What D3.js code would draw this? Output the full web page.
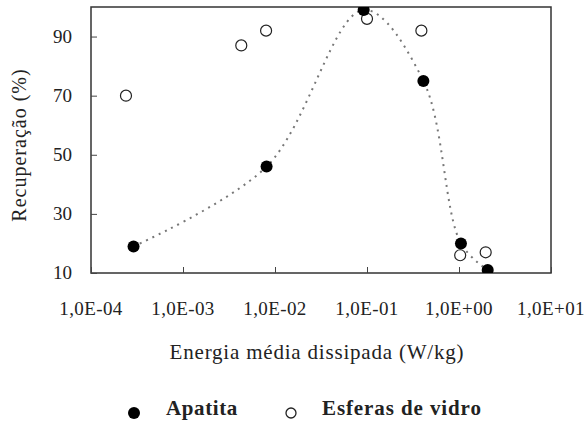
<!DOCTYPE html>
<html>
<head>
<meta charset="utf-8">
<script src="https://cdn.jsdelivr.net/npm/d3@7"></script>
<style>
  body { margin: 0; background: #fff; }
  text { fill: #222; }
</style>
</head>
<body>
<div id="chart"></div>
<script>
// energia media dissipada (W/kg) vs recuperacao (%)
var apatitaX = [2.9e-4, 8.1e-3, 9.2e-2, 4.1e-1, 1.05, 2.05];
var apatitaY = [19, 46, 99, 75, 20, 11];
var vidroX = [2.4e-4, 4.3e-3, 8.0e-3, 1.0e-1, 3.9e-1, 1.03, 1.95];
var vidroY = [70, 87, 92, 96, 92, 16, 17];
var xTicks = [1e-4, 1e-3, 1e-2, 1e-1, 1e0, 1e1];
var xTickLabels = ["1,0E-04", "1,0E-03", "1,0E-02", "1,0E-01", "1,0E+00", "1,0E+01"];
var yTicks = [10, 30, 50, 70, 90];

var width = 586, height = 422;
var plotL = 91, plotR = 551, plotT = 7, plotB = 273;
var serif = "Liberation Serif, Times New Roman, serif";

var svg = d3.select("#chart").append("svg")
    .attr("width", width).attr("height", height);

var x = d3.scaleLog().domain([1e-4, 1e1]).range([plotL, plotR]);
var y = d3.scaleLinear().domain([10, 100]).range([plotB, plotT]);

svg.append("clipPath").attr("id", "clip")
  .append("rect").attr("x", plotL).attr("y", plotT)
  .attr("width", plotR - plotL).attr("height", plotB - plotT);

// frame
svg.append("rect")
    .attr("x", plotL).attr("y", plotT)
    .attr("width", plotR - plotL).attr("height", plotB - plotT)
    .attr("fill", "none").attr("stroke", "#333").attr("stroke-width", 1.5);

// inward ticks
var xAxis = d3.axisTop(x).tickValues(xTicks).tickSize(6).tickFormat("");
svg.append("g").attr("transform", "translate(0," + plotB + ")").call(xAxis)
  .call(function(g) { g.select(".domain").remove(); g.selectAll("line").attr("stroke", "#444"); });
var yAxis = d3.axisRight(y).tickValues(yTicks).tickSize(6).tickFormat("");
svg.append("g").attr("transform", "translate(" + plotL + ",0)").call(yAxis)
  .call(function(g) { g.select(".domain").remove(); g.selectAll("line").attr("stroke", "#444"); });

// tick labels
svg.selectAll(".xl").data(xTicks).enter().append("text")
    .attr("x", function(d) { return x(d); })
    .attr("y", 315)
    .attr("text-anchor", "middle")
    .style("font-family", serif)
    .style("font-size", "19px")
    .style("letter-spacing", "0.4px")
    .text(function(d, i) { return xTickLabels[i]; });

svg.selectAll(".yl").data(yTicks).enter().append("text")
    .attr("x", 72)
    .attr("y", function(d) { return y(d) + 6; })
    .attr("text-anchor", "end")
    .style("font-family", serif)
    .style("font-size", "19px")
    .text(function(d) { return d; });

// axis titles
svg.append("text")
    .attr("x", 317).attr("y", 359)
    .attr("text-anchor", "middle")
    .style("font-family", serif)
    .style("font-size", "21px")
    .style("letter-spacing", "0.8px")
    .text("Energia média dissipada (W/kg)");

svg.append("text")
    .attr("transform", "translate(26,145) rotate(-90)")
    .attr("text-anchor", "middle")
    .style("font-family", serif)
    .style("font-size", "20px")
    .style("letter-spacing", "1px")
    .text("Recuperação (%)");

// dotted trend through apatita
var apatita = apatitaX.map(function(v, i) { return [v, apatitaY[i]]; });
var vidro = vidroX.map(function(v, i) { return [v, vidroY[i]]; });

var line = d3.line()
    .x(function(d) { return x(d[0]); })
    .y(function(d) { return y(d[1]); })
    .curve(d3.curveCatmullRom.alpha(0.5));

svg.append("path")
    .datum(apatita)
    .attr("clip-path", "url(#clip)")
    .attr("d", line)
    .attr("fill", "none")
    .attr("stroke", "#777")
    .attr("stroke-width", 2)
    .attr("stroke-dasharray", "2,5");

svg.append("g").selectAll("circle").data(vidro).enter().append("circle")
    .attr("cx", function(d) { return x(d[0]); })
    .attr("cy", function(d) { return y(d[1]); })
    .attr("r", 5.5)
    .attr("fill", "#fff")
    .attr("stroke", "#222")
    .attr("stroke-width", 1.2);

svg.append("g").attr("clip-path", "url(#clip)").selectAll("circle").data(apatita).enter().append("circle")
    .attr("cx", function(d) { return x(d[0]); })
    .attr("cy", function(d) { return y(d[1]); })
    .attr("r", 6)
    .attr("fill", "#000");

// legend
var legend = svg.append("g");
legend.append("circle").attr("cx", 134).attr("cy", 413).attr("r", 6).attr("fill", "#000");
legend.append("text").attr("x", 166).attr("y", 415)
    .style("font-family", serif)
    .style("font-size", "21px").style("font-weight", "bold")
    .style("letter-spacing", "0.6px")
    .text("Apatita");
legend.append("circle").attr("cx", 291).attr("cy", 413).attr("r", 5)
    .attr("fill", "#fff").attr("stroke", "#222").attr("stroke-width", 1.3);
legend.append("text").attr("x", 322).attr("y", 415)
    .style("font-family", serif)
    .style("font-size", "21px").style("font-weight", "bold")
    .style("letter-spacing", "0.9px")
    .text("Esferas de vidro");
</script>
</body>
</html>
